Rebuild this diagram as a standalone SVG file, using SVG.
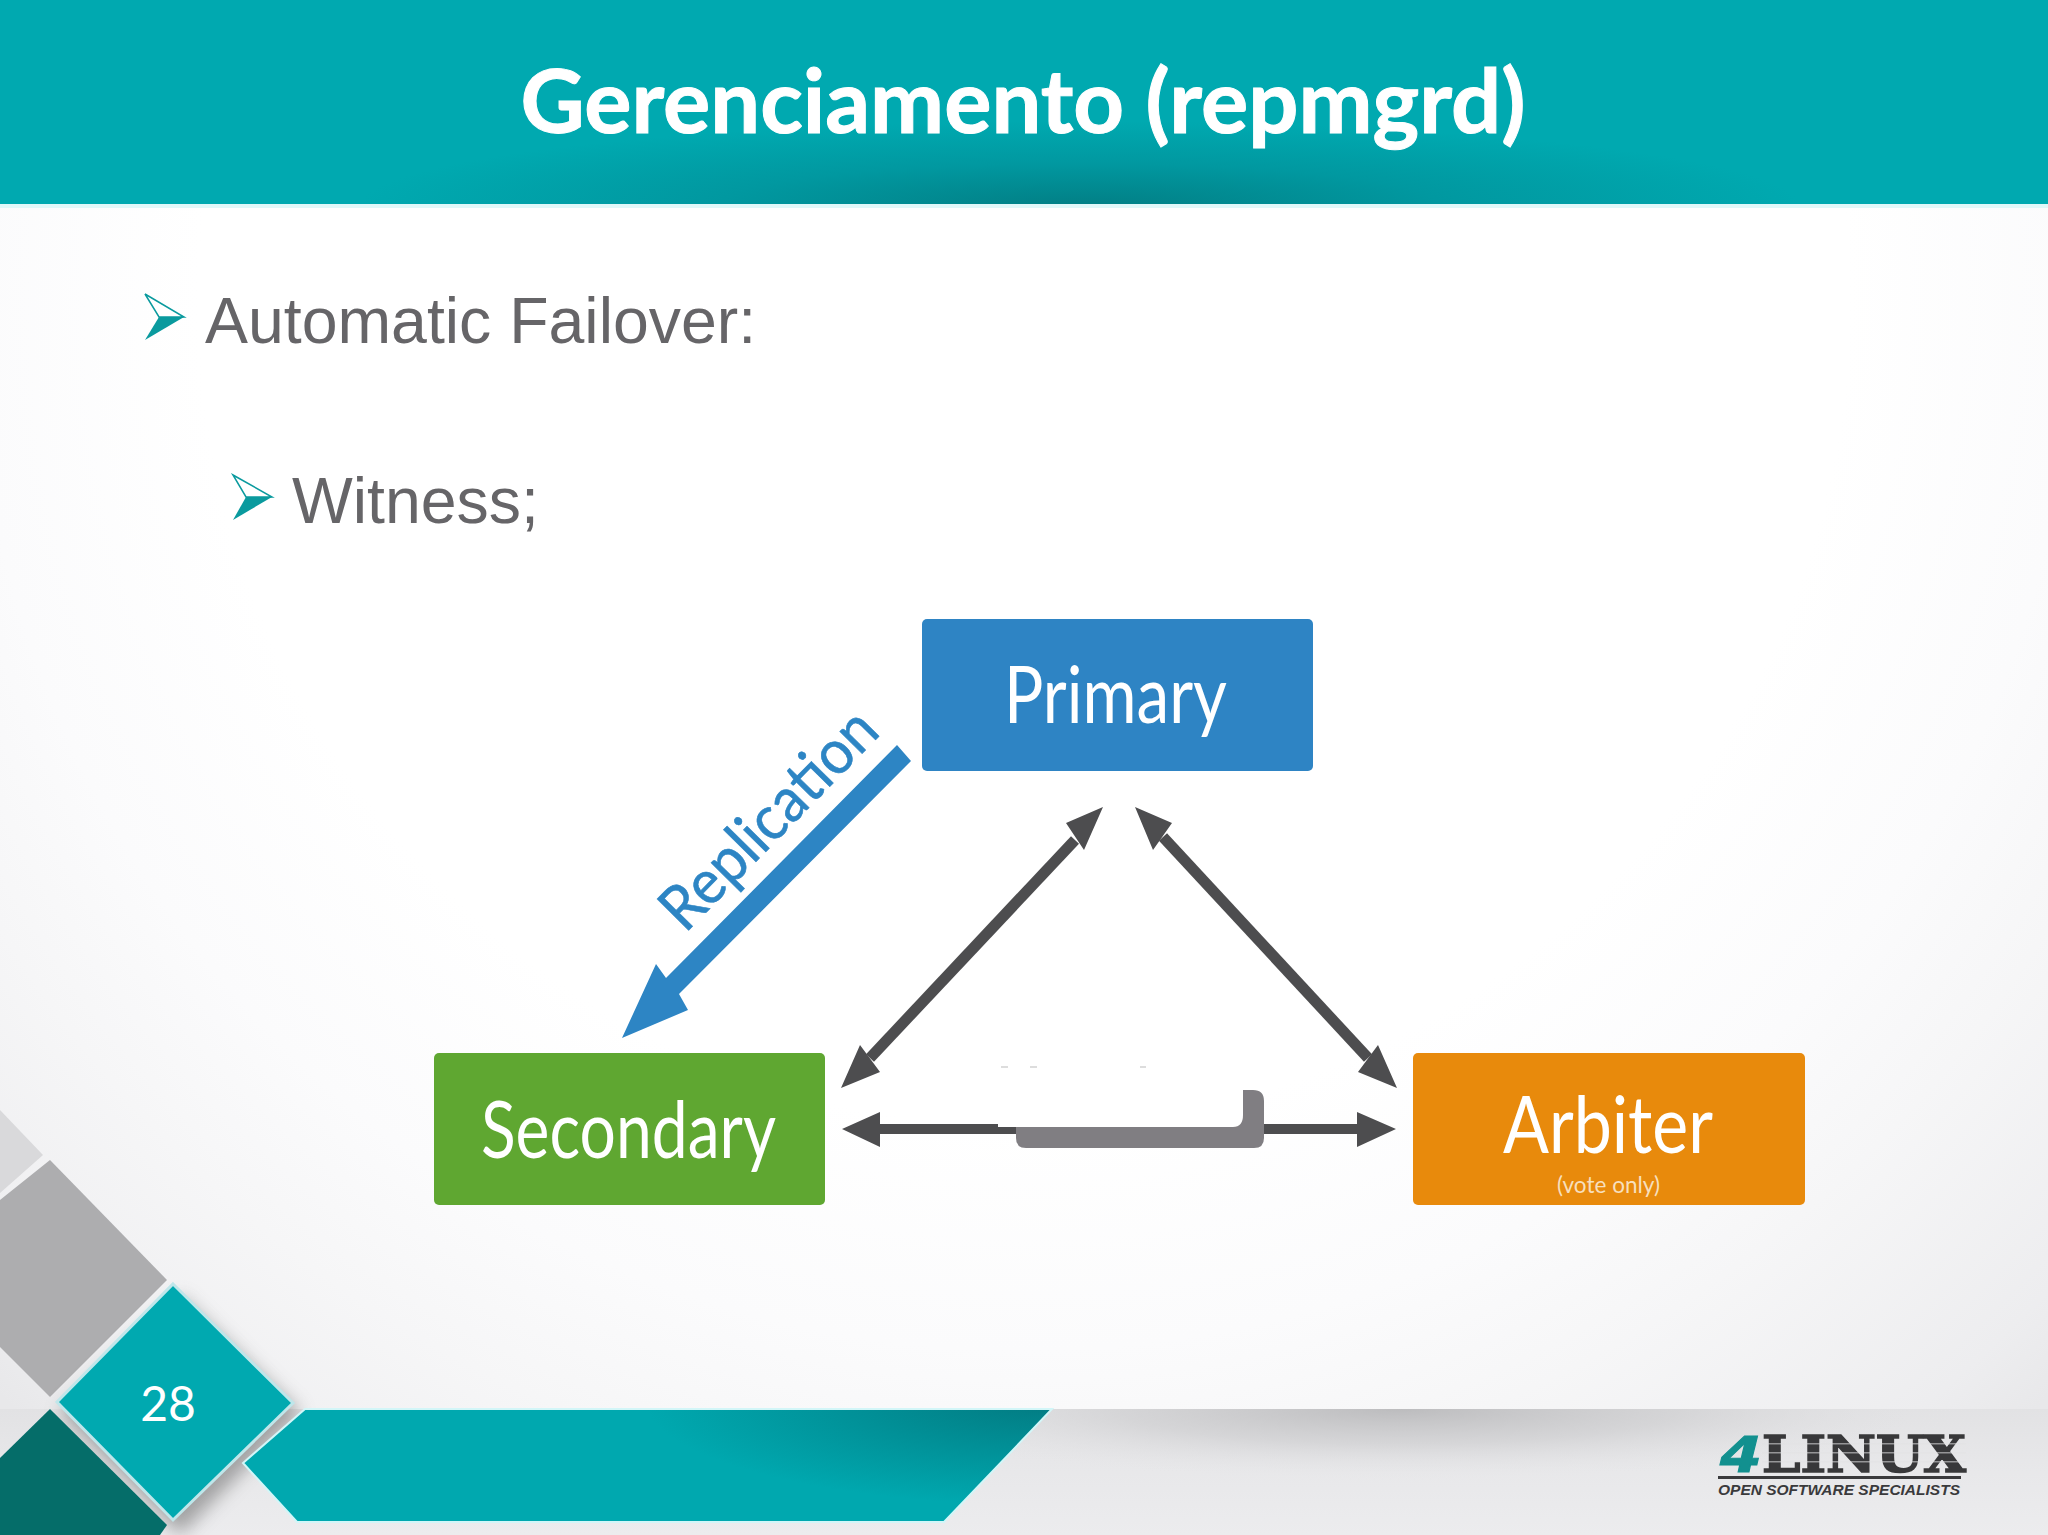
<svg xmlns="http://www.w3.org/2000/svg" width="2048" height="1535" viewBox="0 0 2048 1535">
<style>
.body{font-family:"Liberation Sans",Arial,sans-serif;font-size:64.4px;fill:#666568}
.node{font-family:Lato,"Open Sans",sans-serif;font-size:80px;fill:#fff}
.ar{fill:#4d4d4f}
.bt{fill:#0a9a9e}
.tw{fill:#fff;stroke:#0a9a9e;stroke-width:1.5}
.stripe{fill:#e2e2e4;opacity:.55}
</style>
<defs>
<radialGradient id="bg" cx="1024" cy="300" r="1500" gradientUnits="userSpaceOnUse"><stop offset=".55" stop-color="#fff"/><stop offset=".7" stop-color="#fbfbfc"/><stop offset=".8" stop-color="#f6f6f7"/><stop offset=".95" stop-color="#ededef"/><stop offset="1" stop-color="#e8e8ea"/></radialGradient>
<radialGradient id="hd" cx="0" cy="0" r="1" gradientUnits="userSpaceOnUse" gradientTransform="translate(1080 206) scale(720 85)"><stop offset="0" stop-color="#027f85"/><stop offset=".5" stop-color="#0198a0"/><stop offset="1" stop-color="#00a9b0"/></radialGradient>
<radialGradient id="band" cx="0" cy="0" r="1" gradientUnits="userSpaceOnUse" gradientTransform="translate(1045 1400) scale(400 105)"><stop offset="0" stop-color="#027a81"/><stop offset="1" stop-color="#00a8af"/></radialGradient>
<linearGradient id="foot" x1="0" y1="0" x2="0" y2="1"><stop offset="0" stop-color="#e2e2e4"/><stop offset=".5" stop-color="#e8e8ea"/><stop offset="1" stop-color="#ececee"/></linearGradient>
<radialGradient id="fs" cx="0" cy="0" r="1" gradientUnits="userSpaceOnUse" gradientTransform="translate(1400 1409) scale(560 70)"><stop offset="0" stop-color="#bcbcbe"/><stop offset=".5" stop-color="#cfcfd1" stop-opacity=".7"/><stop offset="1" stop-color="#e6e6e8" stop-opacity="0"/></radialGradient>
<filter id="sh" x="-30%" y="-30%" width="160%" height="160%"><feGaussianBlur stdDeviation="9"/></filter>
</defs>
<rect width="2048" height="1535" fill="url(#bg)"/>
<rect x="0" y="1409" width="2048" height="126" fill="url(#foot)"/>
<rect x="800" y="1409" width="1248" height="126" fill="url(#fs)"/>
<g id="header"><rect y="204" width="2048" height="4" fill="#e0f8f9"/><rect width="2048" height="204" fill="url(#hd)"/>
<text x="1023" y="133" text-anchor="middle" font-family="Lato,'Open Sans',sans-serif" font-weight="700" font-size="88" fill="#fff" stroke="#fff" stroke-width="1" textLength="1005" lengthAdjust="spacingAndGlyphs">Gerenciamento (repmgrd)</text></g>
<g id="bullets">
<path class="tw" d="M145 294L184 317H159Z"/><path class="bt" d="M145 340L184 317H159Z"/>
<text class="body" x="205" y="343">Automatic Failover:</text>
<path class="tw" d="M233 475L272 497H246Z"/><path class="bt" d="M233 520L272 497H246Z"/>
<text class="body" x="292" y="523">Witness;</text>
</g>
<g id="decor">
<polygon points="0,1110 43,1155 0,1193" fill="#d9d9db"/>
<polygon points="50,1160 167,1280 50,1397 0,1347 0,1200" fill="#adadaf"/>
<polygon points="60,1412 180,1296 300,1412 180,1535" fill="#666" opacity=".55" filter="url(#sh)"/>
<polygon points="50,1409 167,1525 160,1535 0,1535 0,1458" fill="#056d69"/>
<polygon points="305,1409 1052,1409 944,1522 297,1522 243,1463" fill="url(#band)" stroke="#d2f6f8" stroke-width="2"/>
<polygon points="173,1284 293,1403 173,1520 57,1402" fill="#00a9b0" stroke="#bfe6ea" stroke-width="3"/>
<text x="168" y="1421" text-anchor="middle" font-family="Lato,sans-serif" font-size="48" fill="#fff">28</text>
</g>
<g id="connectors">
<path class="ar" d="M842 1129L880 1112V1124H1040V1134H880V1147Z"/>
<path class="ar" d="M1396 1129L1357 1112V1124H1240V1134H1357V1147Z"/>
<g stroke="#4d4d4f" stroke-width="11"><line x1="870" y1="1058" x2="1075" y2="840"/><line x1="1163" y1="837" x2="1368" y2="1058"/></g>
<path class="ar" d="M841 1088L860 1045 880 1072ZM1103 807L1066 823 1084 850ZM1135 807L1172 823 1153 850ZM1397 1088L1378 1045 1358 1072Z"/>
<rect x="998" y="1070" width="245" height="57" fill="#fff"/>
<path d="M1016 1127H1233Q1243 1127 1243 1115V1090H1253Q1264 1090 1264 1101V1138Q1264 1148 1254 1148H1026Q1016 1148 1016 1138Z" fill="#807e82"/>
<path d="M1001 1067h7M1030 1067h7M1140 1067h6" stroke="#bbb" stroke-width="1"/>
<path id="replication-arrow" d="M897 745L911 761L679 994L688 1010L622 1038L656 964L666 978Z" fill="#2d85c4"/>
<text transform="translate(685 934) rotate(-45.5)" font-family="Lato,sans-serif" font-size="62" fill="#2d85c4" stroke="#2d85c4" stroke-width=".6" textLength="281" lengthAdjust="spacingAndGlyphs">Replication</text>
</g>
<g id="primary"><rect x="922" y="619" width="391" height="152" rx="5" fill="#2e84c4"/>
<text class="node" x="1004" y="723" textLength="223" lengthAdjust="spacingAndGlyphs">Primary</text></g>
<g id="secondary"><rect x="434" y="1053" width="391" height="152" rx="5" fill="#5fa731"/>
<text class="node" x="481" y="1158" textLength="295" lengthAdjust="spacingAndGlyphs">Secondary</text></g>
<g id="arbiter"><rect x="1413" y="1053" width="392" height="152" rx="5" fill="#e88a0c"/>
<text class="node" x="1503" y="1153" textLength="210" lengthAdjust="spacingAndGlyphs">Arbiter</text>
<text x="1557" y="1193" font-family="Lato,sans-serif" font-size="24" fill="#f7dfbd" textLength="103" lengthAdjust="spacingAndGlyphs">(vote only)</text></g>
<g id="logo">
<text x="1720" y="1472" font-family="'DejaVu Sans',sans-serif" font-weight="700" font-style="italic" font-size="50" fill="#12908f" stroke="#12908f" stroke-width="1" textLength="42" lengthAdjust="spacingAndGlyphs">4</text>
<text x="1762" y="1472" font-family="'DejaVu Serif',serif" font-weight="700" font-size="50" fill="#38383a" stroke="#38383a" stroke-width="1.6" textLength="204" lengthAdjust="spacingAndGlyphs">LINUX</text>
<rect class="stripe" x="1762" y="1443" width="204" height="1.5"/><rect class="stripe" x="1762" y="1452" width="204" height="1.5"/><rect class="stripe" x="1762" y="1461" width="204" height="1.5"/>
<rect x="1718" y="1476" width="243" height="3" fill="#3a3a3c"/>
<text x="1718" y="1495" font-family="'Liberation Sans',sans-serif" font-weight="700" font-style="italic" font-size="14" fill="#3a3a3c" textLength="242" lengthAdjust="spacingAndGlyphs">OPEN SOFTWARE SPECIALISTS</text>
</g>
</svg>
